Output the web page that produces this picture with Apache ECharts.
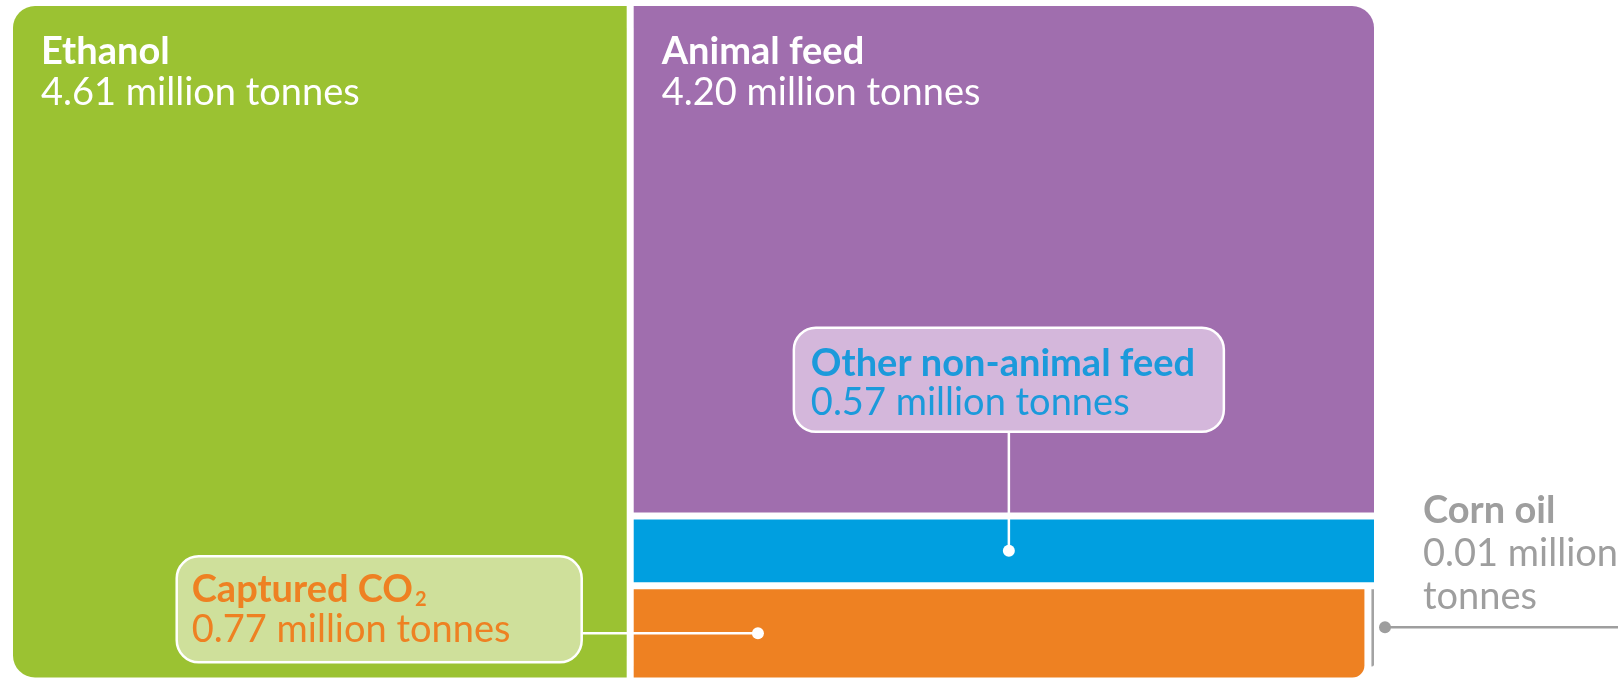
<!DOCTYPE html>
<html><head><meta charset="utf-8">
<script src="https://cdn.jsdelivr.net/npm/echarts@6/dist/echarts.min.js"></script>
<style>html,body{margin:0;padding:0;background:#fff;overflow:hidden}#c{width:1618px;height:681px}</style>
</head><body><div id="c"></div>
<script>
// ---- data ----
const names = ['Ethanol', 'Animal feed', 'Other non-animal feed', 'Captured CO', 'Corn oil'];
const subscripts = ['', '', '', '2', ''];
const values = [4.61, 4.20, 0.57, 0.77, 0.01];
const unit = 'million tonnes';

// ---- styles ----
const fills = ['#9BC232', '#A06EAE', '#009FE0', '#EE8122', '#A3A3A3'];
const FONT = 'Lato';
const FS = 38;

// slice-and-dice layout in data units (x: 0..total, y: 0..right-group total)
const total = values.reduce((a, b) => a + b, 0);
const R = total - values[0];
const bottomRow = values[3] + values[4];
const xSplit = values[0] + R * values[3] / bottomRow;
const cells = [
  [0, values[0], 0, R, 0],
  [values[0], total, R - values[1], R, 1],
  [values[0], total, bottomRow, bottomRow + values[2], 2],
  [values[0], xSplit, 0, bottomRow, 3],
  [xSplit, total, 0, bottomRow, 4]
];

function fmt(v) { return v.toFixed(2) + ' ' + unit; }

const radii = [[22, 0, 0, 22], [0, 22, 0, 0], 0, [0, 0, 12, 0], [0, 0, 2, 0]];

function rich(color, lh) {
  return {
    b: { fontFamily: FONT, fontWeight: 'bold', fontSize: FS, lineHeight: lh, fill: color },
    n: { fontFamily: FONT, fontWeight: 'normal', fontSize: FS, lineHeight: lh, fill: color },
    s: { fontFamily: FONT, fontWeight: 'bold', fontSize: 20, lineHeight: 14, verticalAlign: 'bottom', padding: [0, 0, 0, 2], fill: color }
  };
}
function label(i) {
  const sub = subscripts[i] ? '{s|' + subscripts[i] + '}' : '';
  return '{b|' + names[i] + '}' + sub + '\n{n|' + fmt(values[i]) + '}';
}

function renderItem(params, api) {
  const i = api.value(4);
  const p0 = api.coord([api.value(0), api.value(3)]);
  const p1 = api.coord([api.value(1), api.value(2)]);
  const g = 3.5;
  const x = p0[0] + g, y = p0[1] + g, w = p1[0] - p0[0] - 2 * g, h = p1[1] - p0[1] - 2 * g;
  const children = [];
  let rh = h;
  if (i === 4) rh = h - 11;
  children.push({ type: 'rect', shape: { x: x, y: y, width: w, height: rh, r: radii[i] }, style: { fill: fills[i] } });
  const cx = x + w / 2, cy = y + h / 2;
  if (i === 0 || i === 1) {
    children.push({
      type: 'text', z2: 10,
      style: { x: x + 28, y: y + 25, text: label(i), rich: rich('#fff', 41) }
    });
  } else if (i === 2) {
    const lx = cx + 5;
    const bw = 430, bh = 104, bb = cy - 119;
    const bx = lx - bw / 2, by = bb - bh;
    const tc = '#1B9ADB';
    children.push({ type: 'line', z2: 5, shape: { x1: lx, y1: cy, x2: lx, y2: bb }, style: { stroke: '#fff', lineWidth: 2.5 } });
    children.push({ type: 'circle', z2: 6, shape: { cx: lx, cy: cy, r: 6 }, style: { fill: '#fff' } });
    children.push({ type: 'rect', z2: 7, shape: { x: bx, y: by, width: bw, height: bh, r: 22 }, style: { fill: '#D4B7DB', stroke: '#fff', lineWidth: 2.5 } });
    children.push({
      type: 'text', z2: 10,
      style: { x: bx + 17, y: by + 16, text: label(i), rich: rich(tc, 39) }
    });
  } else if (i === 3) {
    const dx = x + w * 0.17;
    const bw = 405, bh = 106;
    const br = x - 52;
    const bx = br - bw, by = cy - 77;
    const tc = '#EE8122';
    children.push({ type: 'line', z2: 5, shape: { x1: dx, y1: cy, x2: br, y2: cy }, style: { stroke: '#fff', lineWidth: 2.5 } });
    children.push({ type: 'circle', z2: 6, shape: { cx: dx, cy: cy, r: 6 }, style: { fill: '#fff' } });
    children.push({ type: 'rect', z2: 7, shape: { x: bx, y: by, width: bw, height: bh, r: 22 }, style: { fill: '#CFE09B', stroke: '#fff', lineWidth: 2.5 } });
    children.push({
      type: 'text', z2: 10,
      style: { x: bx + 15, y: by + 13, text: label(i), rich: rich(tc, 40) }
    });
  } else if (i === 4) {
    const tc = '#9E9E9E';
    const dx = x + w + 11, dy = cy - 6;
    children.push({ type: 'line', z2: 5, shape: { x1: dx, y1: dy, x2: 1618, y2: dy }, style: { stroke: tc, lineWidth: 2.5 } });
    children.push({ type: 'circle', z2: 6, shape: { cx: dx, cy: dy, r: 6 }, style: { fill: tc } });
    children.push({
      type: 'text', z2: 10,
      style: {
        x: x + w + 49, y: y - 100,
        text: '{b|' + names[i] + '}\n{n|' + values[i].toFixed(2) + ' million}\n{n|tonnes}',
        rich: rich(tc, 43)
      }
    });
  }
  return { type: 'group', children: children };
}

const chart = echarts.init(document.getElementById('c'));
chart.setOption({
  animation: false,
  backgroundColor: '#fff',
  grid: { left: 9.5, right: 240.5, top: 2.5, bottom: -1.5 },
  xAxis: { type: 'value', min: 0, max: total, show: false },
  yAxis: { type: 'value', min: 0, max: R, show: false },
  series: [{
    type: 'custom',
    renderItem: renderItem,
    clip: false,
    encode: { x: [0, 1], y: [2, 3] },
    data: cells
  }]
});
</script></body></html>
